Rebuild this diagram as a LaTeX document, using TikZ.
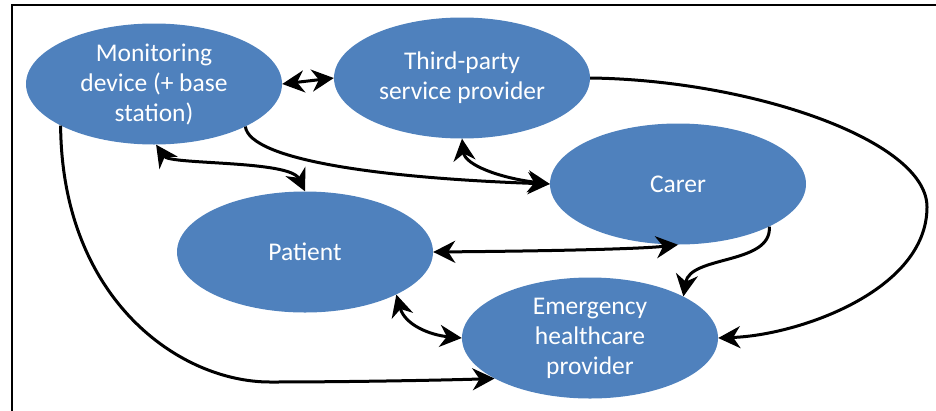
\documentclass[tikz,border=0pt]{standalone}
\usepackage{fontspec}
\setmainfont{Carlito}
\usetikzlibrary{shapes.geometric,arrows.meta}
\definecolor{nodeblue}{RGB}{79,129,189}
\begin{document}
\begin{tikzpicture}[x=1pt,y=-1pt,
  ell/.style={ellipse, fill=nodeblue, draw=none, text=white, minimum width=256pt, minimum height=121pt, inner sep=-10pt, align=center, font=\fontsize{25.5}{30}\selectfont},
  conn/.style={line width=3pt, draw=black},
  frame/.style={line width=2pt, draw=black},
  >={Stealth[length=22pt,width=22pt,inset=7pt]}]
\useasboundingbox (0,0) rectangle (936,410);
\draw[frame] (12,412) -- (12,5) -- (940,5);
\node[ell] (mon) at (154,84) {Monitoring\\device (+ base\\station)};
\node[ell] (tp) at (462,78) {Third-party\\service provider};
\node[ell] (car) at (678,184) {Carer};
\node[ell] (pat) at (305,252) {Patient};
\node[ell] (em) at (590,338) {Emergency\\healthcare\\provider};
\draw[conn,<->] (mon.east) -- (tp.west);
\draw[conn,->] (mon.-25) .. controls (250,160) and (380,178) .. (car.west);
\draw[conn,<->] (mon.-88) .. controls (170,165) and (290,160) .. (pat.north);
\draw[conn,<->] (tp.south) .. controls (465,165) and (500,178) .. (car.west);
\draw[conn,->] (tp.east) .. controls (750,80) and (927,140) .. (927,207) .. controls (927,290) and (800,335) .. (em.east);
\draw[conn,<->] (pat.east) .. controls (550,251) and (640,249) .. (car.south);
\draw[conn,->] (car.-25) .. controls (772,265) and (690,255) .. (em.24);
\draw[conn,<->] (pat.-25) .. controls (405,325) and (430,335) .. (em.west);
\draw[conn,->] (mon.-156) .. controls (62,300) and (180,382) .. (270,382) .. controls (350,382) and (450,380) .. (em.-157);
\end{tikzpicture}
\end{document}
